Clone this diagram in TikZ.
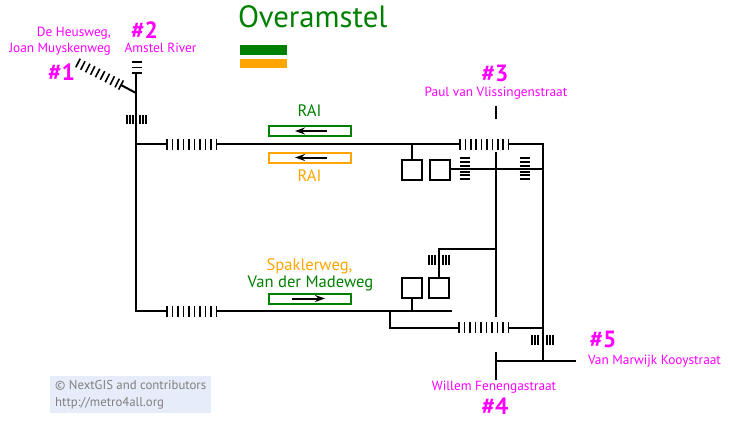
\documentclass[tikz,border=0pt]{standalone}
\usepackage{fontspec}
\setmainfont{PT Sans}
\usetikzlibrary{arrows.meta}
\definecolor{mag}{RGB}{255,0,255}
\definecolor{grn}{RGB}{0,128,0}
\definecolor{org}{RGB}{255,165,0}
\definecolor{wm}{RGB}{230,236,249}
\definecolor{wmt}{RGB}{128,128,128}
\tikzset{
  track/.style={draw=black,line width=2pt},
  tick/.style={draw=black,line width=1.6pt},
  sq/.style={draw=black,line width=2.2pt,fill=white,minimum size=20pt,inner sep=0pt,outer sep=0pt},
  dirbox/.style={draw=#1,fill=white,line width=2pt,minimum width=82pt,minimum height=10pt,inner sep=0pt,outer sep=0pt},
  dirarrow/.style={draw=black,line width=2pt,-{Stealth[length=10pt,width=7pt]}},
  lbl/.style={text=mag,font=\fontsize{13.3}{16}\selectfont,align=center,inner sep=0pt},
  num/.style={text=mag,font=\bfseries\fontsize{23.5}{26}\selectfont,inner sep=0pt},
  dest/.style={font=\fontsize{16.6}{19}\selectfont,align=center,inner sep=0pt},
}
\newcommand{\vticks}[3]{\foreach \tx in {#1} \draw[tick] (\tx,#2) -- (\tx,#3);}
\newcommand{\hticks}[3]{\foreach \ty in {#1} \draw[tick] (#2,\ty) -- (#3,\ty);}
\begin{document}
\begin{tikzpicture}[x=1pt,y=-1pt]
\useasboundingbox (0,0) rectangle (731,421);
% junction coordinates
\coordinate (top) at (136,73);
\coordinate (fork) at (136,93);
\coordinate (diagend) at (121,85);
\coordinate (ul) at (136,144);
\coordinate (ll) at (136,311);
\coordinate (ua) at (167,144);
\coordinate (ub) at (216,144);
\coordinate (uc) at (460,144);
\coordinate (ud) at (509,144);
\coordinate (ue) at (543,144);
\coordinate (la) at (167,311);
\coordinate (lb) at (216,311);
\coordinate (lc) at (452,311);
\coordinate (bra) at (390,311);
\coordinate (brb) at (390,328);
\coordinate (brc) at (459,328);
\coordinate (brd) at (508,328);
\coordinate (bre) at (543,328);
\coordinate (rbot) at (543,361);
\coordinate (mt) at (496,152);
\coordinate (mb) at (496,317);
\coordinate (mj) at (496,249);
\coordinate (mk) at (439,249);
\coordinate (ms) at (496,169);
\coordinate (rs) at (543,169);
\coordinate (pt) at (496,106);
\coordinate (pb) at (496,119);
\coordinate (wt) at (496,352);
\coordinate (wb) at (496,380);
\coordinate (wj) at (496,361);
\coordinate (ve) at (576,361);
% gates
\node[sq] (s1) at (412,170) {};
\node[sq] (s2) at (440,170) {};
\node[sq] (s3) at (412,288) {};
\node[sq] (s4) at (439,288) {};
% tracks
\draw[track] (top) -- (ll) -- (la);
\draw[track] (ul) -- (ua);
\draw[track] (fork) -- (diagend);
\draw[track] (ub) -- (uc);
\draw[track] (ud) -- (ue) -- (rbot);
\draw[track] (lb) -- (lc);
\draw[track] (bra) -- (brb) -- (brc);
\draw[track] (brd) -- (bre);
\draw[track] (mt) -- (mb);
\draw[track] (pt) -- (pb);
\draw[track] (wt) -- (wb);
\draw[track] (wj) -- (ve);
\draw[track] (mj) -- (mk) -- (s4.north);
\draw[track] (s2.east |- ms) -- (rs);
\draw[track] (s1.north |- ul) -- (s1.north);
\draw[track] (s3.south) -- (s3.south |- ll);
% hatches
\hticks{62,67.3,73}{132}{142}
\draw[tick] (121,85) ++(2.4,-4.6) -- ++(-4.8,9.2);
\foreach \i in {0,...,8} {
  \coordinate (h) at ({78+\i*4.9},{63+\i*2.5});
  \draw[tick] (h) ++(2.2,-4.3) -- ++(-4.4,8.6);
}
\vticks{127,130,133,136,140,143,146}{114.5}{124}
\vticks{167,172.5,178,183.5,189,194.5,200,205.5,211,216.5}{139}{150}
\vticks{167,172.5,178,183.5,189,194.5,200,205.5,211,216.5}{306}{317}
\vticks{460,465.4,470.8,476.2,481.6,487,492.4,497.8,503.2,508.6}{139}{150}
\vticks{459,464.5,470,475.5,481,486.5,492,497.5,503,508.5}{322}{333}
\hticks{158,162,166,172,175,179}{459.5}{469.5}
\hticks{158,162,166,172,175,179}{519.5}{529.5}
\vticks{429,432,435,443,446,449}{255}{265}
\vticks{532,535,538,547,550,553}{335}{345}
% direction boxes
\node[dirbox=grn] (r1) at (309.5,131) {};
\node[dirbox=org] (r2) at (309.5,157.5) {};
\node[dirbox=grn] (r3) at (309.5,298.5) {};
\draw[dirarrow] (r1.center) ++(17.5,0) -- ++(-32,0);
\draw[dirarrow] (r2.center) ++(17.5,0) -- ++(-32,0);
\draw[dirarrow] (r3.center) ++(-17.5,0) -- ++(33,0);
% legend
\node[anchor=base west,inner sep=0pt,text=grn,font=\fontsize{30.8}{34}\selectfont] (title) at (238,27) {Overamstel};
\fill[grn] (239.5,45) rectangle (287,55);
\fill[org] (239.5,59) rectangle (287,68);
% destinations
\node[dest,text=grn] (d1) at (309.5,110.5) {RAI};
\node[dest,text=org] (d2) at (309.5,175.5) {RAI};
\node[dest,anchor=base,text=org] (d3) at (309.5,270) {Spaklerweg,};
\node[dest,anchor=base,text=grn] (d4) at (310.5,287) {Van der Madeweg};
% exits
\node[lbl,align=right,anchor=north east] (e1) at (111,27) {De Heusweg,\\Joan Muyskenweg};
\node[num] (n1) at (61.5,72.5) {\#1};
\node[num] (n2) at (144.5,30) {\#2};
\node[lbl] (e2) at (160.5,48) {Amstel River};
\node[num] (n3) at (495,73) {\#3};
\node[lbl] (e3) at (496,93) {Paul van Vlissingenstraat};
\node[lbl] (e4) at (494,387.5) {Willem Fenengastraat};
\node[num] (n4) at (495,406) {\#4};
\node[num] (n5) at (603,339.5) {\#5};
\node[lbl] (e5) at (654.5,361.5) {Van Marwijk Kooystraat};
% watermark
\fill[wm] (50,376) rectangle (211,412.5);
\node[anchor=base west,inner sep=0pt,text=wmt,font=\fontsize{12.8}{14}\selectfont] (w1) at (55,389.5) {© NextGIS and contributors};
\node[anchor=base west,inner sep=0pt,text=wmt,font=\fontsize{12.8}{14}\selectfont] (w2) at (55,406) {http://metro4all.org};
\end{tikzpicture}
\end{document}
